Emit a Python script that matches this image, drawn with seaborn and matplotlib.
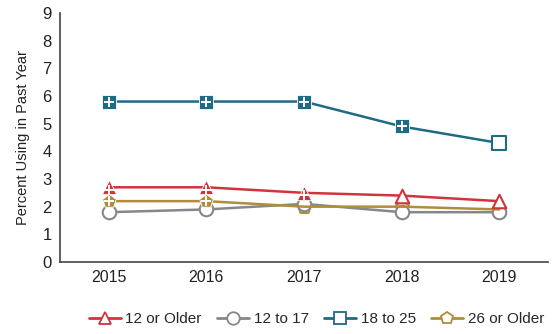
import matplotlib
matplotlib.use("Agg")
import matplotlib.pyplot as plt
from matplotlib.lines import Line2D
import seaborn as sns
import pandas as pd

years = ["2015", "2016", "2017", "2018", "2019"]
age_groups = ["12 or Older", "12 to 17", "18 to 25", "26 or Older"]
older_12 = [2.7, 2.7, 2.5, 2.4, 2.2]
age_12_17 = [1.8, 1.9, 2.1, 1.8, 1.8]
age_18_25 = [5.8, 5.8, 5.8, 4.9, 4.3]
older_26 = [2.2, 2.2, 2.0, 2.0, 1.9]
# "+" marks estimates that differ significantly from the 2019 estimate
sig_12_older = [True, True, True, False, False]
sig_12_17 = [False, False, False, False, False]
sig_18_25 = [True, True, True, True, False]
sig_26_older = [True, True, False, False, False]

colors = {"12 or Older": "#d1343c", "12 to 17": "#85878a",
          "18 to 25": "#1f6a85", "26 or Older": "#b08d3a"}
markers = {"12 or Older": "^", "12 to 17": "o", "18 to 25": "s", "26 or Older": "p"}
# line layer, open-marker layer, filled-marker layer
zorders = {"18 to 25": (3, 3.1, 3.2), "12 to 17": (4, 4.6, 4.7),
           "26 or Older": (5, 4.5, 5.2), "12 or Older": (6, 6.1, 6.2)}

values = {"12 or Older": older_12, "12 to 17": age_12_17,
          "18 to 25": age_18_25, "26 or Older": older_26}
sigs = {"12 or Older": sig_12_older, "12 to 17": sig_12_17,
        "18 to 25": sig_18_25, "26 or Older": sig_26_older}

rows = []
for g in age_groups:
    for i, y in enumerate(years):
        rows.append({"group": g, "year": y, "x": i, "pct": values[g][i], "sig": sigs[g][i]})
df = pd.DataFrame(rows)

sns.set_theme(style="white")
plt.rcParams["font.family"] = ["Liberation Sans Narrow", "Liberation Sans", "DejaVu Sans"]

fig = plt.figure(figsize=(5.55, 3.34), dpi=100)
ax = fig.add_axes([60 / 555, 1 - 262 / 334, 488 / 555, 249 / 334])

for g in age_groups:
    sub = df[df.group == g]
    z_line, z_open, z_fill = zorders[g]
    sns.lineplot(data=sub, x="x", y="pct", color=colors[g], lw=1.8, ax=ax, zorder=z_line,
                 legend=False)
    open_pts = sub[~sub.sig]
    ax.scatter(open_pts.x, open_pts.pct, marker=markers[g], s=95, facecolor="white",
               edgecolor=colors[g], linewidth=1.5, zorder=z_open)
    filled = sub[sub.sig]
    ax.scatter(filled.x, filled.pct, marker=markers[g], s=105, facecolor=colors[g],
               edgecolor="white", linewidth=0.6, zorder=z_fill)
    ax.scatter(filled.x, filled.pct - (0.08 if g == "12 or Older" else 0), marker="+",
               s=45, color="white", linewidth=1.4, zorder=z_fill + 0.05)

ax.set_xlim(-0.5, 4.5)
ax.set_ylim(0, 9)
ax.set_xticks(range(len(years)))
ax.set_xticklabels(years, fontsize=11.5)
ax.set_yticks(range(10))
ax.set_yticklabels([str(v) for v in range(10)], fontsize=12)
ax.tick_params(axis="both", length=0, pad=6, colors="#222222")
ax.set_xlabel("")
ax.set_ylabel("Percent Using in Past Year", fontsize=10.5, color="#222222", labelpad=9)
for side in ["top", "right"]:
    ax.spines[side].set_visible(False)
for side in ["left", "bottom"]:
    ax.spines[side].set_color("#444444")
    ax.spines[side].set_linewidth(1.2)

handles = [Line2D([0], [0], color=colors[g], lw=2, marker=markers[g], markersize=9,
                  markerfacecolor="white", markeredgecolor=colors[g], markeredgewidth=1.3)
           for g in age_groups]
fig.legend(handles, age_groups, loc="center", bbox_to_anchor=(0.57, 1 - 319 / 334),
           ncol=4, frameon=False, fontsize=11, handlelength=2.1, handletextpad=0.3,
           columnspacing=1.0)

fig.savefig("out.png", dpi=100)
